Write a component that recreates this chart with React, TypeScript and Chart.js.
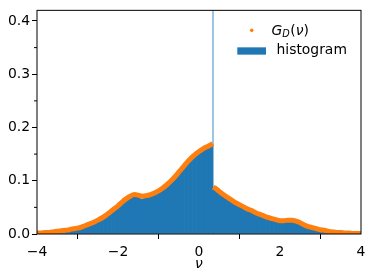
import React, { useEffect, useRef } from "react";
import { Chart, registerables } from "chart.js";

Chart.register(...registerables);

// Axis ticks
const xTicks = [-4, -2, 0, 2, 4];
const xMinorTicks = [-3, -1, 1, 3];
const yTicks = [0, 0.1, 0.2, 0.3, 0.4];
const yMinorTicks = [0.05, 0.15, 0.25, 0.35];

// Histogram bins (centers, width 0.1) and heights
const histNu = [
  -3.91, -3.81, -3.71, -3.61, -3.51, -3.41, -3.31, -3.21, -3.11, -3.01,
  -2.91, -2.81, -2.71, -2.61, -2.51, -2.41, -2.31, -2.21, -2.11, -2.01,
  -1.91, -1.81, -1.71, -1.61, -1.51, -1.41, -1.31, -1.21, -1.11, -1.01,
  -0.91, -0.81, -0.71, -0.61, -0.51, -0.41, -0.31, -0.21, -0.11, -0.01,
  0.09, 0.19, 0.29, 0.39, 0.49, 0.59, 0.69, 0.79, 0.89, 0.99,
  1.09, 1.19, 1.29, 1.39, 1.49, 1.59, 1.69, 1.79, 1.89, 1.99,
  2.09, 2.19, 2.29, 2.39, 2.49, 2.59, 2.69, 2.79, 2.89, 2.99,
  3.09, 3.19, 3.29, 3.39, 3.49, 3.59, 3.69, 3.79, 3.89, 3.99,
];
const histVal = [
  0.002, 0.002, 0.003, 0.003, 0.004, 0.005, 0.006, 0.007, 0.009, 0.010,
  0.012, 0.015, 0.018, 0.021, 0.024, 0.028, 0.033, 0.039, 0.045, 0.051,
  0.057, 0.063, 0.068, 0.071, 0.069, 0.066, 0.068, 0.071, 0.074, 0.078,
  0.083, 0.089, 0.096, 0.104, 0.112, 0.122, 0.131, 0.139, 0.146, 0.152,
  0.158, 0.163, 0.167, 0.084, 0.079, 0.073, 0.068, 0.063, 0.058, 0.054,
  0.050, 0.046, 0.042, 0.039, 0.036, 0.033, 0.030, 0.028, 0.026, 0.024,
  0.023, 0.024, 0.024, 0.022, 0.019, 0.016, 0.013, 0.011, 0.009, 0.007,
  0.006, 0.005, 0.004, 0.003, 0.002, 0.002, 0.001, 0.001, 0.001, 0.001,
];

// Spike of the histogram at the discontinuity
const spikeNu = [0.345, 0.345];
const spikeVal = [0, 0.6];

// G_D(nu) curve (null = break at the discontinuity)
const gdNu = [
  -4.0, -3.9, -3.8, -3.7, -3.6, -3.5, -3.4, -3.3, -3.2, -3.1,
  -3.0, -2.9, -2.8, -2.7, -2.6, -2.5, -2.4, -2.3, -2.2, -2.1,
  -2.0, -1.9, -1.8, -1.7, -1.6, -1.5, -1.4, -1.3, -1.2, -1.1,
  -1.0, -0.9, -0.8, -0.7, -0.6, -0.5, -0.4, -0.3, -0.2, -0.1,
  0.0, 0.1, 0.2, 0.3, 0.34, 0.345, 0.35, 0.4, 0.5, 0.6,
  0.7, 0.8, 0.9, 1.0, 1.1, 1.2, 1.3, 1.4, 1.5, 1.6,
  1.7, 1.8, 1.9, 2.0, 2.1, 2.2, 2.3, 2.4, 2.5, 2.6,
  2.7, 2.8, 2.9, 3.0, 3.1, 3.2, 3.3, 3.4, 3.5, 3.6,
  3.7, 3.8, 3.9, 4.0,
];
const gdVal = [
  0.002, 0.002, 0.003, 0.003, 0.004, 0.005, 0.006, 0.007, 0.008, 0.010,
  0.011, 0.013, 0.016, 0.019, 0.022, 0.026, 0.030, 0.035, 0.041, 0.047,
  0.053, 0.060, 0.066, 0.071, 0.074, 0.073, 0.071, 0.072, 0.074, 0.077,
  0.081, 0.086, 0.092, 0.099, 0.107, 0.116, 0.125, 0.134, 0.142, 0.149,
  0.155, 0.160, 0.164, 0.168, 0.170, null, 0.088, 0.086, 0.080, 0.074,
  0.069, 0.064, 0.059, 0.055, 0.051, 0.047, 0.044, 0.040, 0.037, 0.034,
  0.031, 0.029, 0.027, 0.025, 0.025, 0.026, 0.026, 0.024, 0.021, 0.017,
  0.014, 0.012, 0.010, 0.008, 0.007, 0.005, 0.004, 0.003, 0.003, 0.002,
  0.002, 0.001, 0.001, 0.001,
];

const BLUE = "#1f77b4";
const ORANGE = "#ff7f0e";
const FONT = "DejaVu Sans";
const FS = 13.9;

const fmtX = (v: number) => (v < 0 ? "\u2212" + Math.abs(v) : String(v));

const decorPlugin = {
  id: "decor",
  afterDatasetsDraw(chart: any) {
    const { ctx, chartArea: a, scales } = chart;
    ctx.save();
    ctx.strokeStyle = "#000";
    ctx.lineWidth = 1;
    ctx.beginPath();
    for (const v of xMinorTicks) {
      const px = scales.x.getPixelForValue(v);
      ctx.moveTo(px, a.bottom);
      ctx.lineTo(px, a.bottom + 3);
    }
    for (const v of yMinorTicks) {
      const py = scales.y.getPixelForValue(v);
      ctx.moveTo(a.left, py);
      ctx.lineTo(a.left - 3, py);
    }
    ctx.stroke();
    ctx.strokeRect(a.left, a.top, a.right - a.left, a.bottom - a.top);
    ctx.restore();
  },
  afterDraw(chart: any) {
    const { ctx, chartArea: a } = chart;
    ctx.save();
    // entry 1: G_D(nu)
    ctx.fillStyle = ORANGE;
    ctx.beginPath();
    ctx.arc(a.right - 109.3, a.top + 20, 1.8, 0, Math.PI * 2);
    ctx.fill();
    ctx.fillStyle = "#000";
    ctx.textBaseline = "alphabetic";
    let x = a.right - 89.5;
    const by = a.top + 24.5;
    ctx.font = `italic ${FS}px '${FONT}'`;
    ctx.fillText("G", x, by);
    x += ctx.measureText("G").width;
    ctx.font = `italic ${FS * 0.7}px '${FONT}'`;
    ctx.fillText("D", x, by + 2.5);
    x += ctx.measureText("D").width + 0.5;
    ctx.font = `${FS}px '${FONT}'`;
    ctx.fillText("(", x, by);
    x += ctx.measureText("(").width;
    ctx.font = `italic ${FS}px '${FONT}'`;
    ctx.fillText("\u03bd", x, by);
    x += ctx.measureText("\u03bd").width;
    ctx.font = `${FS}px '${FONT}'`;
    ctx.fillText(")", x, by);
    // entry 2: histogram
    ctx.fillStyle = BLUE;
    ctx.fillRect(a.right - 123.7, a.top + 37, 28.7, 7.3);
    ctx.fillStyle = "#000";
    ctx.font = `${FS}px '${FONT}'`;
    ctx.fillText("histogram", a.right - 84.5, a.top + 43.5);
    ctx.restore();
  },
};

export default function App() {
  const ref = useRef<HTMLCanvasElement | null>(null);

  useEffect(() => {
    if (!ref.current) return;
    Chart.defaults.font.family = FONT;
    Chart.defaults.font.size = FS;
    Chart.defaults.color = "#000";

    const chart = new Chart(ref.current, {
      type: "bar",
      data: {
        datasets: [
          {
            type: "line",
            label: "G_D(ν)",
            data: gdNu.map((x, i) => ({ x, y: gdVal[i] })) as any,
            borderColor: ORANGE,
            backgroundColor: ORANGE,
            borderWidth: 5,
            pointRadius: 0,
            cubicInterpolationMode: "monotone",
            spanGaps: false,
            order: 1,
          },
          {
            type: "bar",
            label: "histogram",
            data: histNu.map((x, i) => ({ x, y: histVal[i] })) as any,
            backgroundColor: BLUE,
            borderWidth: 0,
            barPercentage: 1,
            categoryPercentage: 1,
            grouped: false,
            order: 3,
          },
          {
            type: "line",
            label: "spike",
            data: spikeNu.map((x, i) => ({ x, y: spikeVal[i] })) as any,
            borderColor: "#9cc4e4",
            borderWidth: 2,
            pointRadius: 0,
            order: 4,
          },
        ],
      },
      options: {
        responsive: false,
        animation: false,
        devicePixelRatio: 1,
        layout: { padding: { left: 0, right: 13, top: 8, bottom: 0 } },
        plugins: {
          legend: { display: false },
          tooltip: { enabled: false },
        },
        scales: {
          x: {
            type: "linear",
            min: -4,
            max: 4,
            offset: false,
            afterBuildTicks: (s: any) => {
              s.ticks = xTicks.map((v) => ({ value: v }));
            },
            afterFit: (s: any) => {
              s.height = 46;
            },
            ticks: {
              callback: (v: any) => fmtX(Number(v)),
              padding: 5,
              maxRotation: 0,
              autoSkip: false,
              font: { family: FONT, size: FS },
            },
            grid: {
              display: true,
              drawOnChartArea: false,
              drawTicks: true,
              tickLength: 5,
              tickColor: "#000",
              tickWidth: 1,
            },
            border: { display: false },
            title: {
              display: true,
              text: "\u03bd",
              font: { family: FONT, size: FS, style: "italic" },
              padding: { top: 0, bottom: 7 },
            },
          },
          y: {
            type: "linear",
            min: 0,
            max: 0.42,
            afterBuildTicks: (s: any) => {
              s.ticks = yTicks.map((v) => ({ value: v }));
            },
            afterFit: (s: any) => {
              s.width = 37;
            },
            ticks: {
              callback: (v: any) => Number(v).toFixed(1),
              padding: 2,
              autoSkip: false,
              font: { family: FONT, size: FS },
            },
            grid: {
              display: true,
              drawOnChartArea: false,
              drawTicks: true,
              tickLength: 5,
              tickColor: "#000",
              tickWidth: 1,
            },
            border: { display: false },
          },
        },
      },
      plugins: [decorPlugin],
    });
    return () => chart.destroy();
  }, []);

  return (
    <div style={{ position: "fixed", left: 0, top: 0, width: 374, height: 280, background: "#fff" }}>
      <canvas ref={ref} width={374} height={280} style={{ display: "block", width: 374, height: 280 }} />
    </div>
  );
}
